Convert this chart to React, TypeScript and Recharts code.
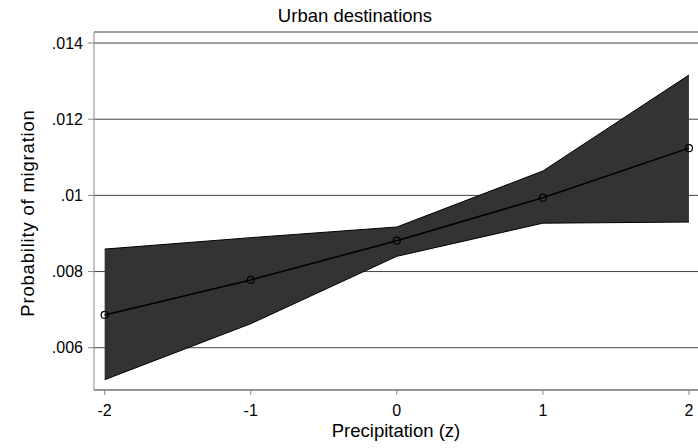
import React from 'react';
import { ComposedChart, Area, Line, XAxis, YAxis, CartesianGrid } from 'recharts';

const precipitation = [-2, -1, 0, 1, 2];
const estimate = [0.00686, 0.00778, 0.00881, 0.00994, 0.01124];
const lowerCI = [0.00516, 0.00663, 0.0084, 0.00927, 0.0093];
const upperCI = [0.00859, 0.00889, 0.00917, 0.01064, 0.01316];
const yTicks = [0.006, 0.008, 0.01, 0.012, 0.014];

const data = precipitation.map((x, i) => ({
  x,
  est: estimate[i],
  band: [lowerCI[i], upperCI[i]],
}));

const FONT = '"Liberation Sans", Arial, Helvetica, sans-serif';

const fmtY = (v: number) => String(v).replace(/^0/, '');

const XTitle = (props: any) => {
  const vb = props.viewBox || {};
  return (
    <text x={vb.x + vb.width / 2} y={437} textAnchor="middle" fontFamily={FONT} fontSize={18.5} fill="#000">
      Precipitation (z)
    </text>
  );
};

const YTitle = (props: any) => {
  const vb = props.viewBox || {};
  const cy = vb.y + vb.height / 2 + 2;
  return (
    <text
      x={34}
      y={cy}
      transform={`rotate(-90, 34, ${cy})`}
      textAnchor="middle"
      fontFamily={FONT}
      fontSize={18.5}
      letterSpacing={0.8}
      fill="#000"
    >
      Probability of migration
    </text>
  );
};

export default function App() {
  return (
    <div style={{ position: 'absolute', left: 0, top: 0, width: 698, height: 448, background: '#fff' }}>
      <svg width={698} height={30} style={{ position: 'absolute', left: 0, top: 0 }}>
        <text x={355} y={22} textAnchor="middle" fontFamily={FONT} fontSize={18.5} fill="#000">
          Urban destinations
        </text>
      </svg>
      <ComposedChart width={698} height={448} data={data} margin={{ top: 32, right: 0, bottom: 0, left: 0 }}>
        <CartesianGrid horizontal vertical={false} stroke="#444" strokeWidth={1} />
        <XAxis
          dataKey="x"
          type="number"
          domain={[-2.073, 2.062]}
          ticks={precipitation}
          height={58}
          stroke="#888"
          tickSize={5}
          tickMargin={10}
          tick={{ fill: '#000', fontSize: 16, fontFamily: FONT }}
          label={<XTitle />}
          allowDataOverflow
        />
        <YAxis
          type="number"
          domain={[0.00489, 0.01429]}
          ticks={yTicks}
          width={94}
          stroke="#888"
          tickSize={6}
          tickMargin={5}
          tickFormatter={fmtY}
          tick={{ fill: '#000', fontSize: 16, fontFamily: FONT }}
          label={<YTitle />}
          allowDataOverflow
        />
        <Area
          dataKey="band"
          type="linear"
          fill="#333333"
          fillOpacity={1}
          stroke="#000"
          strokeWidth={1}
          isAnimationActive={false}
          activeDot={false}
        />
        <Line
          dataKey="est"
          type="linear"
          stroke="#000"
          strokeWidth={1.5}
          dot={{ r: 3.5, fill: 'none', stroke: '#000', strokeWidth: 1.2 }}
          activeDot={false}
          isAnimationActive={false}
        />
      </ComposedChart>
    </div>
  );
}
